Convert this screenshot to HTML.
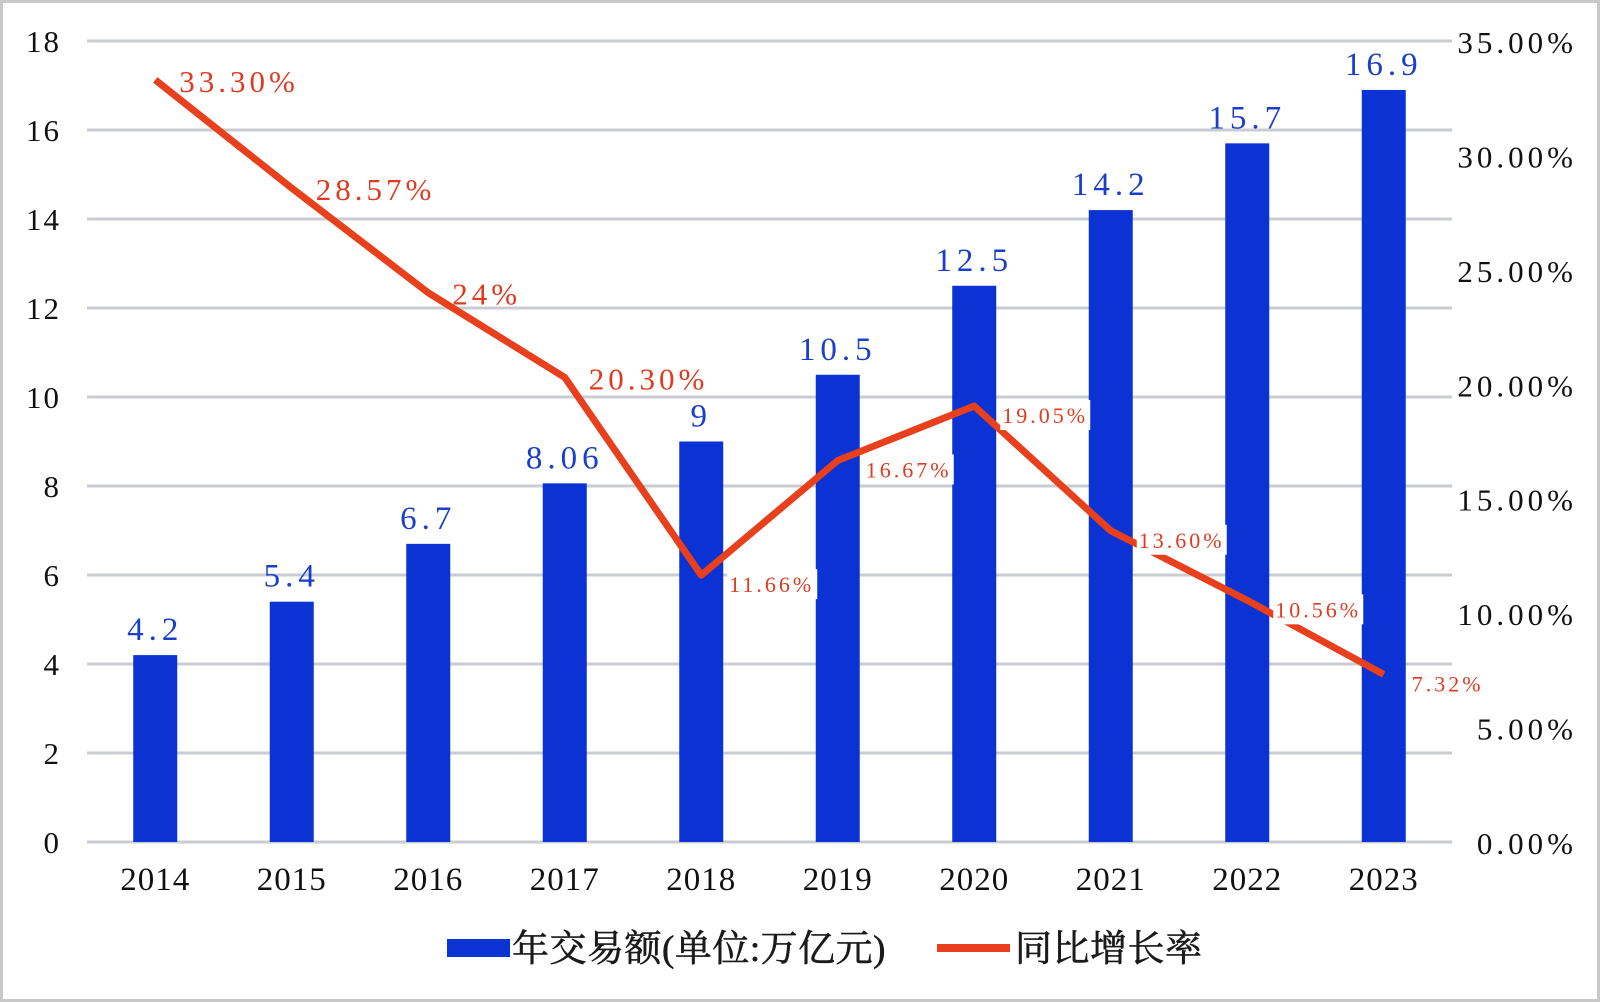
<!DOCTYPE html>
<html><head><meta charset="utf-8"><style>
html,body{margin:0;padding:0;background:#fff}
svg{display:block}
text{font-family:"Liberation Serif","Noto Serif CJK SC",serif}
</style></head><body>
<svg id="chart" width="1600" height="1002" viewBox="0 0 1600 1002" xmlns="http://www.w3.org/2000/svg">
<rect x="1.5" y="1.5" width="1597" height="999" fill="#fff" stroke="#c8c8c8" stroke-width="3"/>
<g id="grid"></g><g id="bars"></g><g id="line"></g><g id="labels"></g><g id="axes"></g>
<g>
<rect x="447" y="939" width="63" height="18" fill="#0b32d2"/>
<text x="512" y="961" font-size="37" font-family="Liberation Sans,Noto Sans CJK SC,sans-serif" fill="#1a1a1a" stroke="#1a1a1a" stroke-width="0.6" letter-spacing="0.5">年交易额(单位:万亿元)</text>
<line x1="937" y1="948" x2="1010" y2="948" stroke="#e8401c" stroke-width="8"/>
<text x="1015" y="961" font-size="37" font-family="Liberation Sans,Noto Sans CJK SC,sans-serif" fill="#1a1a1a" stroke="#1a1a1a" stroke-width="0.6" letter-spacing="0.5">同比增长率</text>
</g>
</svg>
<script>
const years=["2014","2015","2016","2017","2018","2019","2020","2021","2022","2023"];
const amounts=[4.2,5.4,6.7,8.06,9,10.5,12.5,14.2,15.7,16.9];
const growth=[33.30,28.57,24,20.30,11.66,16.67,19.05,13.60,10.56,7.32];
const growthLabels=["33.30%","28.57%","24%","20.30%","11.66%","16.67%","19.05%","13.60%","10.56%","7.32%"];
const leftTicks=[0,2,4,6,8,10,12,14,16,18];
const rightTicks=[0,5,10,15,20,25,30,35];
const NS="http://www.w3.org/2000/svg";
const x0=87,x1=1452,yb=842,yt=41;
const bw=(x1-x0)/years.length;
const xc=i=>x0+bw*(i+0.5);
const yL=v=>yb-(v/18)*(yb-yt);
const yR=v=>yb-(v/35)*(yb-yt);
function mk(tag,attrs,parent,txt){const e=document.createElementNS(NS,tag);for(const k in attrs)e.setAttribute(k,attrs[k]);if(txt!==undefined)e.textContent=txt;document.getElementById(parent).appendChild(e);return e;}
leftTicks.forEach(t=>{
  const l=mk('line',{x1:x0,x2:x1,y1:yL(t),y2:yL(t),stroke:'#c9ccd2','stroke-width':3},'grid');
  
  
  const tx=mk('text',{x:61,y:yL(t)+11,'font-size':31,'text-anchor':'end',fill:'#111','letter-spacing':2},'axes',String(t));
  
  
});
rightTicks.forEach(t=>{
  const tx=mk('text',{x:1577,y:yR(t)+12,'font-size':31,'text-anchor':'end',fill:'#111','letter-spacing':4},'axes',t.toFixed(2)+'%');
  
  
});
years.forEach((y,i)=>{
  const b=mk('rect',{x:xc(i)-22,y:yL(amounts[i]),width:44,height:yb-yL(amounts[i]),fill:'#0b32d2'},'bars');
  
  
  const v=mk('text',{x:xc(i),y:yL(amounts[i])-15,'font-size':33,'text-anchor':'middle',fill:'#1a3fc8','letter-spacing':5},'labels',String(amounts[i]));
  
  
  const xt=mk('text',{x:xc(i),y:890,'font-size':33,'text-anchor':'middle',fill:'#111','letter-spacing':1},'axes',y);
  
  
});
const pts=growth.map((g,i)=>xc(i)+','+yR(g)).join(' ');
const pl=mk('polyline',{points:pts,fill:'none',stroke:'#e8401c','stroke-width':7,'stroke-linejoin':'round'},'line');


growth.forEach((g,i)=>{
  let t;
  if(i<4){
    t=mk('text',{x:xc(i)+24,y:yR(g)+12,'font-size':31,fill:'#e03a20','letter-spacing':4},'labels',growthLabels[i]);
  }else{
    const w=growthLabels[i].length*15;
    const bg=mk('rect',{x:xc(i)+26,y:yR(g)-6,width:w,height:30,fill:'#fff'},'labels');
    
    
    t=mk('text',{x:xc(i)+28,y:yR(g)+17,'font-size':22,fill:'#e03a20','letter-spacing':3},'labels',growthLabels[i]);
  }
  
  
});
</script>
</body></html>
